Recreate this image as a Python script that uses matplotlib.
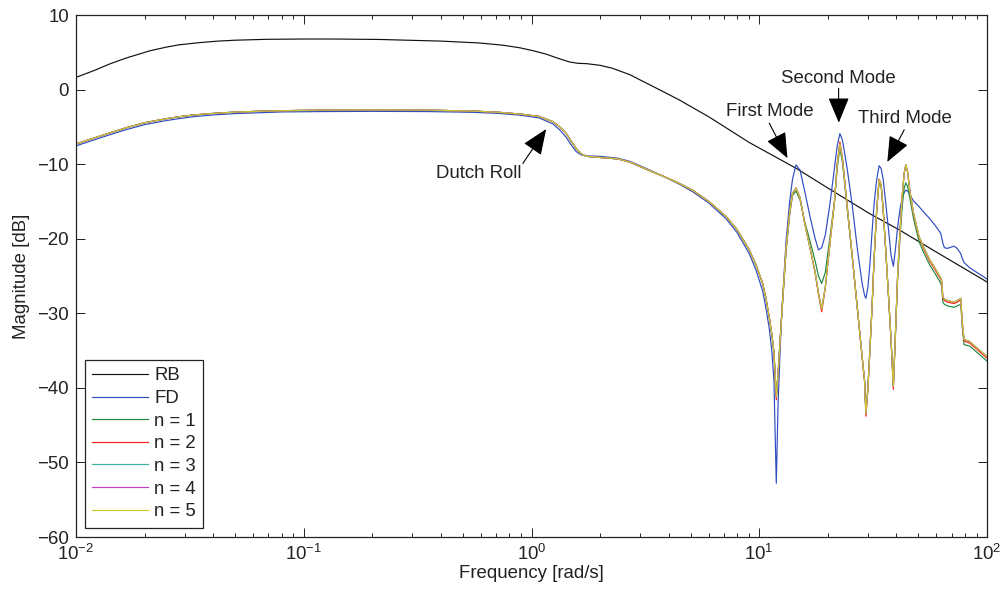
import matplotlib
matplotlib.use("Agg")
import matplotlib.pyplot as plt
from matplotlib.ticker import LogLocator, FixedLocator

plt.rcParams["font.family"] = ["Liberation Sans", "DejaVu Sans"]
plt.rcParams["mathtext.fontset"] = "custom"
plt.rcParams["mathtext.rm"] = "Liberation Sans"
plt.rcParams["mathtext.default"] = "regular"
plt.rcParams["axes.unicode_minus"] = True

# Rigid-body response
rb_freq = [0.01, 0.012, 0.0141, 0.0165, 0.0211, 0.025, 0.0283, 0.035, 0.042, 0.05,
           0.0686, 0.1, 0.134, 0.215, 0.4, 0.59, 0.75, 0.89, 1.02, 1.16,
           1.32, 1.47, 1.6, 1.74, 2.0, 2.27, 2.7, 3.18, 3.8, 4.46,
           6.04, 9.04, 14.6, 20.0, 30.4, 41.1, 60.0, 100.0]
rb_mag = [1.64, 2.55, 3.45, 4.2, 5.2, 5.7, 6.0, 6.3, 6.5, 6.62,
          6.74, 6.78, 6.78, 6.72, 6.5, 6.25, 5.95, 5.6, 5.2, 4.75,
          4.15, 3.7, 3.52, 3.48, 3.25, 2.85, 2.0, 0.9, -0.3, -1.4,
          -3.7, -7.1, -10.6, -13.2, -16.6, -18.8, -21.8, -25.8]

# Flexible-model responses share one frequency grid
freq = [0.01, 0.012, 0.0141, 0.0165, 0.02, 0.025, 0.0283, 0.033, 0.04, 0.05,
        0.065, 0.08, 0.12, 0.2, 0.35, 0.55, 0.72, 0.9, 1.08,
        1.24, 1.33, 1.42, 1.5, 1.57, 1.65, 1.74, 1.99, 2.39, 2.69,
        3.2, 3.77, 4.4, 5.1, 6.0, 7.14, 8.0, 9.04, 9.7, 10.35,
        10.7, 11.06, 11.35, 11.6, 11.88, 12.1, 12.5, 13.1, 13.6, 14.0,
        14.5, 15.1, 15.8, 16.7, 17.6, 18.2, 18.8, 19.5, 20.4, 21.4,
        22.0, 22.6, 23.2, 24.3, 25.6, 27.0, 28.3, 29.0, 29.4, 30.0,
        30.6, 31.3, 31.9, 32.8, 33.6, 34.3, 35.0, 36.0, 37.0, 37.9,
        38.8, 39.6, 40.5, 41.5, 42.5, 43.3, 44.0, 44.8, 45.8, 47.5,
        50.3, 53.0, 56.0, 59.5, 62.7, 63.3, 64.0, 65.0, 67.0, 71.6,
        74.0, 76.7, 77.8, 79.3, 84.0, 90.0, 100.0]

fd_mag = [-7.55, -6.75, -6.05, -5.4, -4.7, -4.15, -3.9, -3.62, -3.4, -3.22,
          -3.1, -3.0, -2.95, -2.92, -2.95, -3.05, -3.2, -3.45, -3.8,
          -4.6, -5.4, -6.4, -7.5, -8.3, -8.75, -8.9, -8.95, -9.2, -9.6,
          -10.6, -11.6, -12.6, -13.7, -15.2, -17.3, -19.2, -22.0, -24.3, -27.0,
          -29.3, -32.0, -35.0, -39.0, -52.8, -42.0, -31.0, -20.5, -15.0, -12.0,
          -10.1, -10.8, -13.5, -17.0, -20.0, -21.5, -21.2, -19.5, -15.5, -10.5,
          -7.5, -5.9, -6.8, -10.5, -15.5, -21.5, -26.0, -27.6, -28.0, -26.5,
          -23.5, -19.0, -15.5, -12.0, -10.2, -10.6, -12.0, -15.5, -19.0, -22.2,
          -23.7, -21.5, -18.5, -16.0, -14.5, -13.8, -13.5, -13.6, -14.1, -14.9,
          -15.7, -16.5, -17.3, -18.3, -19.3, -19.9, -20.6, -21.2, -21.3, -21.0,
          -21.3, -22.0, -22.6, -23.2, -23.9, -24.5, -25.4]

n1_mag = [-7.3, -6.5, -5.8, -5.15, -4.45, -3.9, -3.65, -3.4, -3.2, -3.02,
          -2.9, -2.83, -2.76, -2.72, -2.76, -2.88, -3.05, -3.3, -3.6,
          -4.3, -5.0, -5.9, -7.0, -7.9, -8.6, -8.95, -9.1, -9.3, -9.7,
          -10.7, -11.6, -12.5, -13.5, -15.0, -17.0, -18.8, -21.5, -23.6, -26.0,
          -28.0, -30.5, -32.8, -35.2, -41.0, -38.0, -31.2, -21.8, -16.8, -14.2,
          -13.6, -14.8, -17.6, -20.3, -23.0, -25.0, -26.0, -24.5, -20.0, -15.0,
          -10.5, -7.9, -9.8, -15.8, -22.5, -29.5, -35.8, -39.0, -43.2, -40.0,
          -35.0, -29.0, -23.0, -16.2, -12.3, -13.0, -16.2, -22.0, -28.0, -33.5,
          -39.6, -33.0, -25.5, -19.8, -15.5, -13.2, -12.5, -13.0, -14.5, -17.2,
          -20.4, -22.0, -23.5, -24.8, -26.0, -26.4, -28.5, -28.8, -29.0, -29.2,
          -29.0, -28.8, -31.7, -34.2, -34.4, -35.2, -36.4]

n2_mag = [-7.3, -6.5, -5.8, -5.15, -4.45, -3.9, -3.65, -3.4, -3.2, -3.02,
          -2.9, -2.83, -2.76, -2.72, -2.76, -2.88, -3.05, -3.3, -3.6,
          -4.3, -5.0, -5.9, -7.0, -7.9, -8.6, -8.95, -9.1, -9.3, -9.7,
          -10.7, -11.6, -12.5, -13.5, -15.0, -17.0, -18.8, -21.5, -23.6, -26.0,
          -28.0, -30.5, -32.8, -35.2, -41.6, -38.0, -31.0, -21.5, -16.5, -13.9,
          -13.2, -14.5, -17.8, -21.2, -24.6, -27.5, -29.8, -26.6, -20.8, -15.0,
          -9.9, -7.0, -9.2, -15.5, -22.3, -29.6, -36.0, -39.2, -43.8, -40.2,
          -35.0, -29.0, -23.0, -16.0, -12.0, -12.8, -16.0, -22.0, -28.1, -33.7,
          -40.2, -33.0, -25.0, -19.0, -14.0, -11.2, -10.1, -11.0, -13.5, -16.6,
          -19.8, -21.5, -23.0, -24.3, -25.5, -25.9, -28.0, -28.3, -28.5, -28.7,
          -28.5, -28.2, -31.2, -33.7, -34.0, -34.8, -36.0]

n3_mag = [-7.3, -6.5, -5.8, -5.15, -4.45, -3.9, -3.65, -3.4, -3.2, -3.02,
          -2.9, -2.83, -2.76, -2.72, -2.76, -2.88, -3.05, -3.3, -3.6,
          -4.3, -5.0, -5.9, -7.0, -7.9, -8.6, -8.95, -9.1, -9.3, -9.7,
          -10.7, -11.6, -12.5, -13.5, -15.0, -17.0, -18.8, -21.5, -23.6, -26.0,
          -28.0, -30.5, -32.8, -35.2, -41.2, -38.0, -31.0, -21.5, -16.5, -13.9,
          -13.2, -14.5, -17.8, -21.2, -24.5, -27.3, -29.4, -26.5, -20.8, -15.0,
          -10.0, -7.3, -9.3, -15.5, -22.3, -29.5, -35.8, -39.0, -43.4, -40.0,
          -35.0, -29.0, -23.0, -16.0, -12.1, -12.8, -16.0, -22.0, -28.0, -33.5,
          -39.8, -33.0, -25.0, -19.0, -14.0, -11.2, -10.1, -11.0, -13.5, -16.5,
          -19.7, -21.3, -22.8, -24.1, -25.3, -25.7, -27.8, -28.1, -28.3, -28.5,
          -28.3, -28.0, -31.0, -33.5, -33.8, -34.6, -35.8]

n4_mag = [-7.3, -6.5, -5.8, -5.15, -4.45, -3.9, -3.65, -3.4, -3.2, -3.02,
          -2.9, -2.83, -2.76, -2.72, -2.76, -2.88, -3.05, -3.3, -3.6,
          -4.3, -5.0, -5.9, -7.0, -7.9, -8.6, -8.95, -9.1, -9.3, -9.7,
          -10.7, -11.6, -12.5, -13.5, -15.0, -17.0, -18.8, -21.5, -23.6, -26.0,
          -28.0, -30.5, -32.8, -35.2, -41.2, -38.0, -31.0, -21.5, -16.5, -13.9,
          -13.2, -14.5, -17.8, -21.2, -24.5, -27.3, -29.4, -26.5, -20.8, -15.0,
          -10.0, -7.3, -9.3, -15.5, -22.3, -29.5, -35.8, -39.0, -43.4, -40.0,
          -35.0, -29.0, -23.0, -16.0, -12.1, -12.8, -16.0, -22.0, -28.0, -33.5,
          -39.8, -33.0, -25.0, -19.0, -14.0, -11.2, -10.1, -11.0, -13.5, -16.5,
          -19.7, -21.3, -22.8, -24.1, -25.3, -25.7, -27.8, -28.1, -28.3, -28.5,
          -28.3, -28.0, -31.0, -33.5, -33.8, -34.6, -35.8]

n5_mag = [-7.3, -6.5, -5.8, -5.15, -4.45, -3.9, -3.65, -3.4, -3.2, -3.02,
          -2.9, -2.83, -2.76, -2.72, -2.76, -2.88, -3.05, -3.3, -3.6,
          -4.3, -5.0, -5.9, -7.0, -7.9, -8.6, -8.95, -9.1, -9.3, -9.7,
          -10.7, -11.6, -12.5, -13.5, -15.0, -17.0, -18.8, -21.5, -23.6, -26.0,
          -28.0, -30.5, -32.8, -35.2, -41.2, -38.0, -31.0, -21.5, -16.5, -13.9,
          -13.2, -14.5, -17.8, -21.2, -24.5, -27.3, -29.4, -26.5, -20.8, -15.0,
          -10.0, -7.3, -9.3, -15.5, -22.3, -29.5, -35.8, -39.0, -43.4, -40.0,
          -35.0, -29.0, -23.0, -16.0, -12.1, -12.8, -16.0, -22.0, -28.0, -33.5,
          -39.8, -33.0, -25.0, -19.0, -14.0, -11.2, -10.1, -11.0, -13.5, -16.5,
          -19.7, -21.3, -22.8, -24.1, -25.3, -25.7, -27.8, -28.1, -28.3, -28.5,
          -28.3, -28.0, -31.0, -33.5, -33.8, -34.6, -35.8]

labels = ["RB", "FD", "n = 1", "n = 2", "n = 3", "n = 4", "n = 5"]
colors = ["#111111", "#2f4cc0", "#1f8a3e", "#ff1a1a", "#3cb4a2", "#c43cc4", "#c9c92a"]

# Mode annotations: (text, text position, arrow tail, arrow tip)
notes = [
    ("Dutch Roll", (0.585, -11.3), (0.916, -9.9), (1.16, -5.3)),
    ("First Mode", (11.1, -2.97), (11.06, -4.5), (13.3, -9.2)),
    ("Second Mode", (22.2, 1.5), (22.3, 0.17), (22.35, -4.44)),
    ("Third Mode", (43.7, -3.85), (43.3, -5.4), (36.5, -9.7)),
]

TEXT = "#222222"
FS = 13.4

fig = plt.figure(figsize=(10.05, 5.96), dpi=100)
ax = fig.add_axes([76 / 1005, 1 - 537 / 596, (987 - 76) / 1005, (537 - 15) / 596])

series = [(rb_freq, rb_mag)] + [(freq, m) for m in (fd_mag, n1_mag, n2_mag, n3_mag, n4_mag, n5_mag)]
for (f, m), lab, col in zip(series, labels, colors):
    ax.semilogx(f, m, color=col, lw=0.85, label=lab)

ax.set_xlim(1e-2, 1e2)
ax.set_ylim(-60, 10)
ax.yaxis.set_major_locator(FixedLocator(list(range(-60, 11, 10))))
ax.xaxis.set_major_locator(LogLocator(base=10, numticks=10))
ax.xaxis.set_minor_locator(LogLocator(base=10, subs=range(2, 10), numticks=100))

ax.tick_params(which="both", direction="in", top=True, right=True, colors="#222222",
               labelcolor=TEXT, labelsize=FS, width=0.7)
ax.tick_params(which="major", length=6.5, pad=5)
ax.tick_params(which="minor", length=3.2)
for s in ax.spines.values():
    s.set_linewidth(0.9)
    s.set_color("#222222")

ax.set_xlabel("Frequency [rad/s]", fontsize=FS, color=TEXT, labelpad=1)
ax.set_ylabel("Magnitude [dB]", fontsize=FS, color=TEXT, labelpad=5)

for text, tpos, tail, tip in notes:
    ax.text(tpos[0], tpos[1], text, fontsize=FS, color=TEXT, ha="center", va="center")
    ax.annotate("", xy=tip, xytext=tail,
                arrowprops=dict(arrowstyle="-|>,head_length=1.45,head_width=0.6",
                                mutation_scale=11, color="black", lw=0.8,
                                shrinkA=0, shrinkB=0))

leg = ax.legend(loc="upper left", bbox_to_anchor=((85 - 76) / 911, (537 - 360) / 522),
                borderaxespad=0, fontsize=FS, handlelength=3.0, handletextpad=0.32,
                labelspacing=0.3, borderpad=0.4, fancybox=False, framealpha=1)
leg.get_frame().set_edgecolor("#222222")
leg.get_frame().set_linewidth(0.9)
for t in leg.get_texts():
    t.set_color(TEXT)

fig.savefig("out.png", dpi=100, facecolor="white")
